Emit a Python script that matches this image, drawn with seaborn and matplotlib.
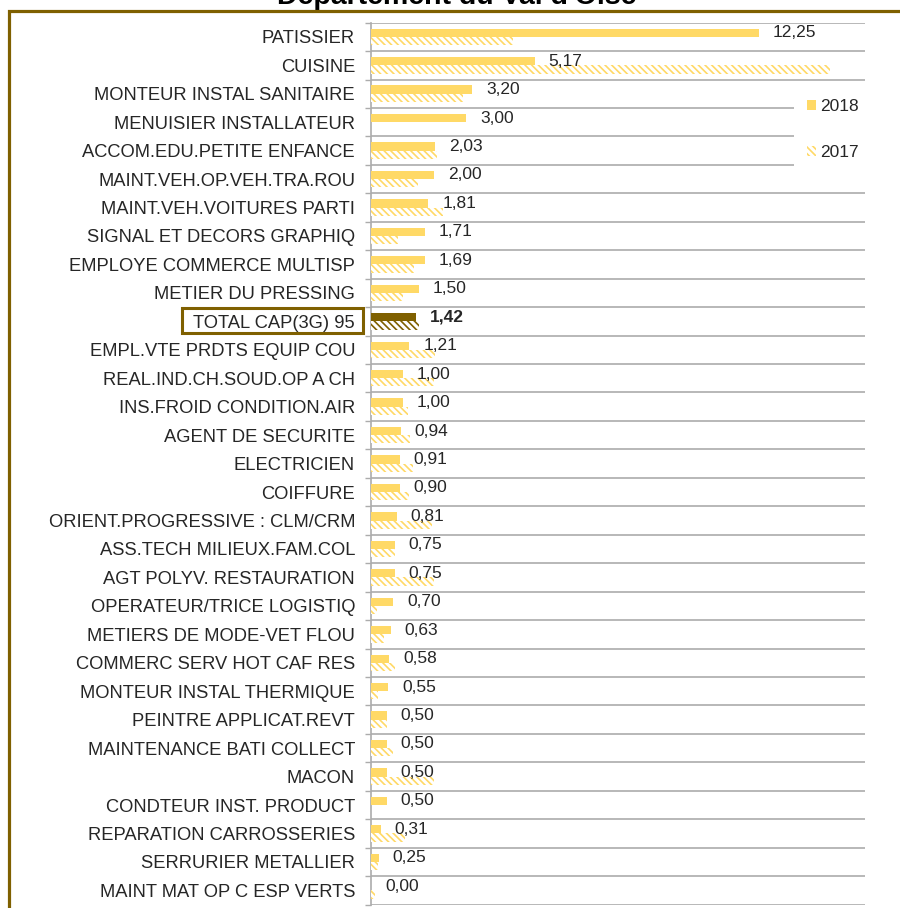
import matplotlib
matplotlib.use("Agg")
import matplotlib.pyplot as plt
from matplotlib.patches import Patch, Rectangle
import seaborn as sns
import pandas as pd

metiers = [
    "PATISSIER", "CUISINE", "MONTEUR INSTAL SANITAIRE", "MENUISIER INSTALLATEUR",
    "ACCOM.EDU.PETITE ENFANCE", "MAINT.VEH.OP.VEH.TRA.ROU", "MAINT.VEH.VOITURES PARTI",
    "SIGNAL ET DECORS GRAPHIQ", "EMPLOYE COMMERCE MULTISP", "METIER DU PRESSING",
    "TOTAL CAP(3G) 95", "EMPL.VTE PRDTS EQUIP COU", "REAL.IND.CH.SOUD.OP A CH",
    "INS.FROID CONDITION.AIR", "AGENT DE SECURITE", "ELECTRICIEN", "COIFFURE",
    "ORIENT.PROGRESSIVE : CLM/CRM", "ASS.TECH MILIEUX.FAM.COL", "AGT POLYV. RESTAURATION",
    "OPERATEUR/TRICE LOGISTIQ", "METIERS DE MODE-VET FLOU", "COMMERC SERV HOT CAF RES",
    "MONTEUR INSTAL THERMIQUE", "PEINTRE APPLICAT.REVT", "MAINTENANCE BATI COLLECT",
    "MACON", "CONDTEUR INST. PRODUCT", "REPARATION CARROSSERIES",
    "SERRURIER METALLIER", "MAINT MAT OP C ESP VERTS",
]
taux_2018 = [12.25, 5.17, 3.20, 3.00, 2.03, 2.00, 1.81, 1.71, 1.69, 1.50,
             1.42, 1.21, 1.00, 1.00, 0.94, 0.91, 0.90, 0.81, 0.75, 0.75,
             0.70, 0.63, 0.58, 0.55, 0.50, 0.50, 0.50, 0.50, 0.31, 0.25, 0.00]
taux_2017 = [4.48, 14.5, 2.90, 0.00, 2.08, 1.47, 2.28, 0.86, 1.36, 1.00,
             1.53, 2.02, 1.99, 1.18, 1.23, 1.33, 1.20, 1.91, 0.75, 1.98,
             0.20, 0.41, 0.75, 0.23, 0.49, 0.68, 1.98, 0.00, 1.07, 0.23, 0.13]
annees = ["2018", "2017"]
titre = "Département du Val d'Oise"
ligne_total = "TOTAL CAP(3G) 95"

JAUNE = "#FFD966"
BRUN = "#7F6000"
GRIS = "#ACACAC"
TEXTE = "#262626"
HACHURE = "\\" * 5

sns.set_theme(style="white")
plt.rcParams['font.family'] = ['Liberation Sans', 'DejaVu Sans']
plt.rcParams['hatch.linewidth'] = 1.2

df = pd.DataFrame({
    "metier": metiers * 2,
    "taux": taux_2018 + taux_2017,
    "annee": ["2018"] * len(metiers) + ["2017"] * len(metiers),
})

fig = plt.figure(figsize=(9, 9.08), dpi=100)
ax = fig.add_axes([371 / 900, 1 - 904.6 / 908, 494 / 900, 882 / 908])

sns.barplot(data=df, y="metier", x="taux", hue="annee", hue_order=annees,
            order=metiers, orient="h", width=0.58, palette=[JAUNE, JAUNE],
            saturation=1, legend=False, ax=ax, zorder=3)

i_total = metiers.index(ligne_total)
bars18, bars17 = ax.containers[0], ax.containers[1]
for i, p in enumerate(bars18):
    p.set_linewidth(0)
    if i == i_total:
        p.set_facecolor(BRUN)
for i, p in enumerate(bars17):
    col = BRUN if i == i_total else JAUNE
    p.set_facecolor("white")
    p.set_edgecolor(col)
    p.set_linewidth(0)
    p.set_hatch(HACHURE)

# etiquettes de valeur (format francais)
labels = [f"{v:.2f}".replace(".", ",") for v in taux_2018]
txts = ax.bar_label(bars18, labels=labels, padding=10, fontsize=12.5, color=TEXTE)
txts[i_total].set_fontweight("bold")

ax.set_xlim(0, 15.59)
ax.set_xlabel("")
ax.set_ylabel("")
ax.set_xticks([])

# quadrillage horizontal entre les categories
ax.set_yticks([i + 0.5 for i in range(-1, len(metiers))], minor=True)
ax.grid(False)
ax.grid(which="minor", axis="y", color=GRIS, linewidth=1.2, zorder=0)
ax.tick_params(axis="y", which="major", length=0, pad=11.5, labelsize=13.2, labelcolor=TEXTE)
ax.tick_params(axis="y", which="minor", length=4.3, width=1, color=GRIS, left=True)
for s in ["top", "right", "bottom"]:
    ax.spines[s].set_visible(False)
ax.spines["left"].set_color(GRIS)
ax.spines["left"].set_linewidth(1.2)

handles = [Patch(facecolor=JAUNE, linewidth=0),
           Patch(facecolor="white", edgecolor=JAUNE, linewidth=0, hatch=HACHURE)]
leg = ax.legend(handles, annees, loc="upper left", mode="expand",
                bbox_to_anchor=(794 / 900, 1 - 95 / 908, 80 / 900, 9 / 908),
                bbox_transform=fig.transFigure,
                frameon=True, framealpha=1, facecolor="white", edgecolor="none",
                fontsize=12.5, handlelength=0.5, handleheight=0.5, handletextpad=0.25,
                borderpad=0.75, labelspacing=1.8, borderaxespad=0, fancybox=False)
for t in leg.get_texts():
    t.set_color(TEXTE)

fig.text(0.507, 1 - 4 / 908, titre, ha="center", va="baseline",
         fontsize=20.5, fontweight="bold", color="black")

# cadre de la figure (deborde a droite et en bas)
fig.patches.append(Rectangle((9 / 900, -0.1), 1.2, 1.1 - 11.5 / 908,
                             transform=fig.transFigure, fill=False,
                             edgecolor=BRUN, linewidth=2.3, zorder=10))

# encadre autour du libelle TOTAL
fig.canvas.draw()
lab = [t for t in ax.get_yticklabels() if t.get_text() == ligne_total][0]
bb = lab.get_window_extent()
W, H = fig.bbox.width, fig.bbox.height
yc = (bb.y0 + bb.y1) / 2 + 2.5
fig.patches.append(Rectangle(((bb.x0 - 11) / W, (yc - 12.5) / H), (bb.width + 19) / W, 25 / H,
                             transform=fig.transFigure, fill=False,
                             edgecolor=BRUN, linewidth=2.2, zorder=10))

fig.savefig("out.png", dpi=100)
plt.close(fig)
